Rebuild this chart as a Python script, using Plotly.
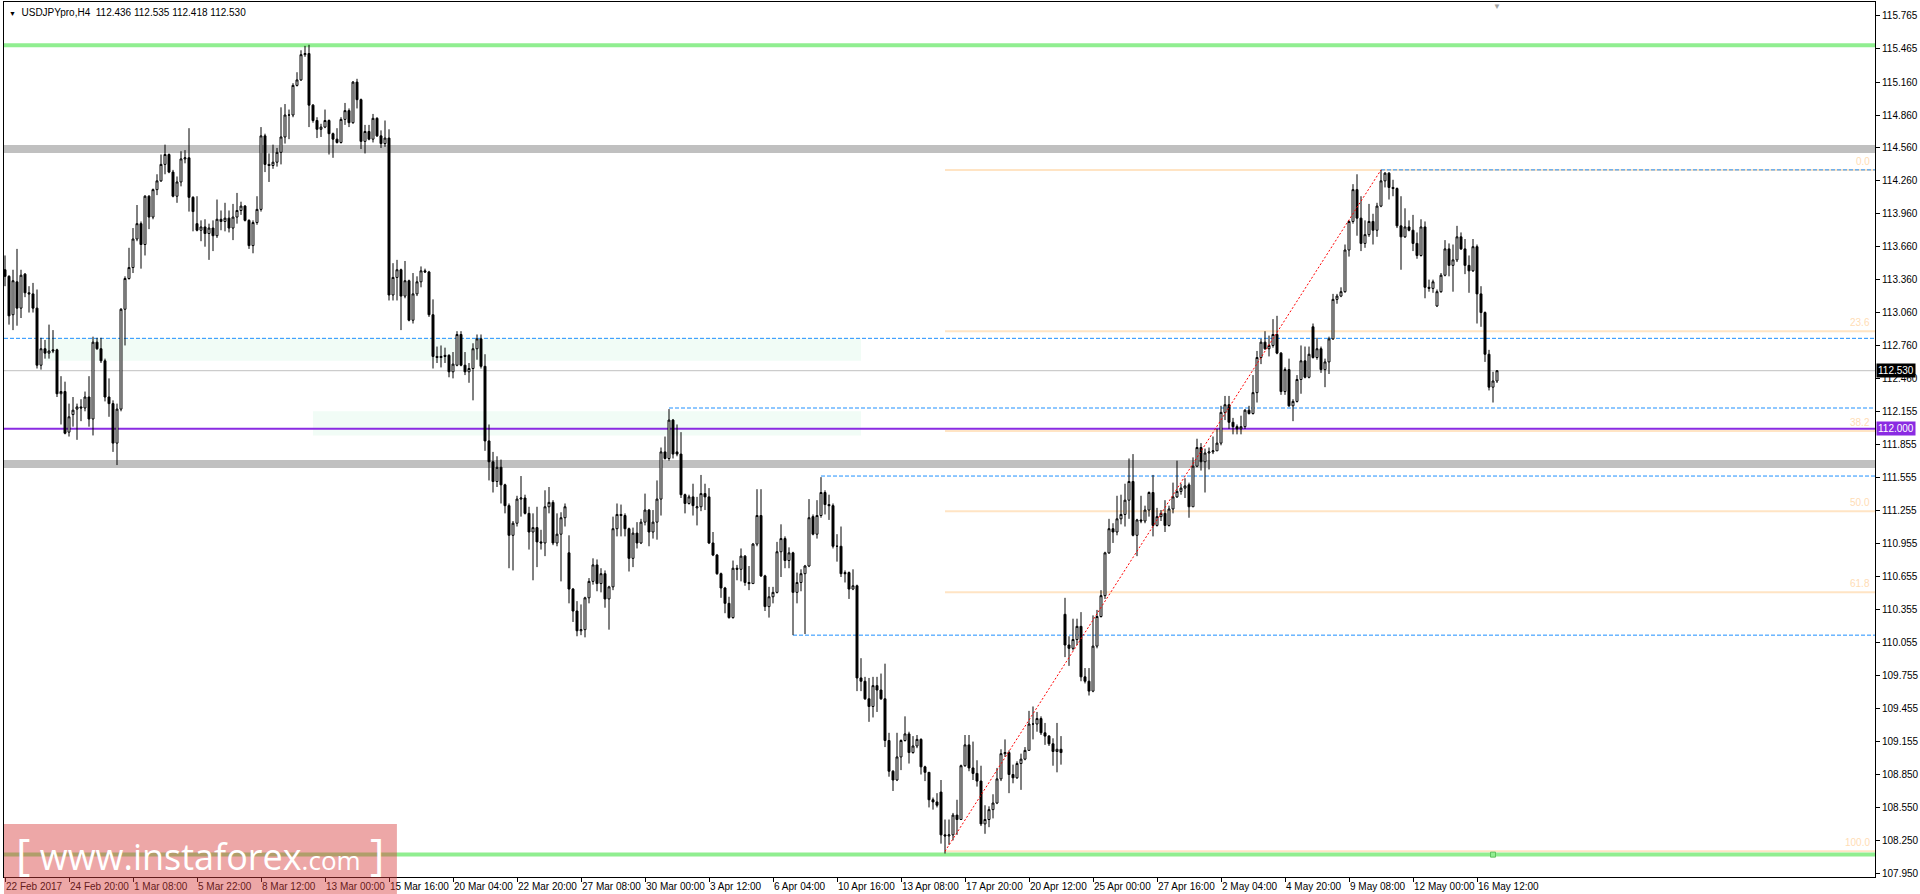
import plotly.graph_objects as go

# USDJPYpro H4 bars, left to right (bar index 0 = 22 Feb 2017)
OPEN = [
    113.45, 113.39, 113.04, 113.34, 113.10, 113.41, 113.24, 113.23, 113.10, 112.58,
    112.73, 112.69, 112.72, 112.72, 112.32, 112.34, 111.97, 112.13, 112.18, 112.20,
    112.19, 112.29, 112.09, 112.79, 112.73, 112.62, 112.29, 112.23, 111.87, 112.18,
    113.09, 113.37, 113.47, 113.73, 113.87, 113.68, 114.12, 113.93, 114.18, 114.26,
    114.41, 114.50, 114.34, 114.12, 114.25, 114.46, 114.47, 114.11, 113.87, 113.81,
    113.84, 113.78, 113.83, 113.76, 113.91, 113.89, 113.92, 113.83, 113.93, 113.99,
    114.03, 113.90, 113.67, 113.88, 114.00, 114.67, 114.41, 114.40, 114.43, 114.52,
    114.66, 114.86, 114.86, 115.13, 115.18, 115.41, 115.42, 114.95, 114.81, 114.73,
    114.75, 114.81, 114.69, 114.64, 114.61, 114.82, 114.90, 114.79, 115.16, 115.00,
    114.62, 114.71, 114.64, 114.83, 114.67, 114.60, 114.65, 113.22, 113.38, 113.45,
    113.21, 113.35, 112.99, 113.23, 113.34, 113.44, 113.43, 113.04, 112.66, 112.65,
    112.67, 112.67, 112.52, 112.58, 112.86, 112.58, 112.52, 112.55, 112.73, 112.82,
    112.57, 111.89, 111.70, 111.52, 111.65, 111.49, 111.30, 111.03, 111.14, 111.36,
    111.37, 111.23, 111.06, 111.10, 110.97, 110.96, 111.29, 111.33, 110.96, 111.04,
    111.19, 110.87, 110.54, 110.34, 110.16, 110.17, 110.46, 110.61, 110.76, 110.59,
    110.68, 110.45, 110.56, 111.09, 111.22, 111.21, 111.09, 110.82, 111.05, 110.96,
    111.15, 111.26, 111.06, 111.15, 111.36, 111.79, 111.73, 112.08, 111.79, 111.77,
    111.40, 111.32, 111.38, 111.28, 111.29, 111.41, 111.38, 110.96, 110.85, 110.68,
    110.55, 110.41, 110.28, 110.73, 110.72, 110.84, 110.60, 110.59, 110.95, 111.21,
    110.66, 110.38, 110.47, 110.51, 110.88, 111.00, 110.80, 110.87, 110.51, 110.60,
    110.68, 110.75, 111.20, 111.04, 111.21, 111.42, 111.31, 111.30, 110.93, 110.93,
    110.69, 110.69, 110.54, 110.57, 109.73, 109.70, 109.54, 109.47, 109.66, 109.62,
    109.54, 109.16, 108.88, 108.80, 109.01, 109.16, 109.22, 109.05, 109.11, 109.17,
    108.92, 108.87, 108.62, 108.60, 108.69, 108.30, 108.29, 108.30, 108.48, 108.44,
    108.93, 109.12, 108.91, 108.86, 108.79, 108.40, 108.44, 108.53, 108.59, 108.81,
    109.04, 109.05, 108.85, 108.82, 108.95, 108.99, 109.07, 109.31, 109.31, 109.36,
    109.23, 109.20, 109.13, 109.06, 109.08, 110.31, 110.03, 110.00, 110.08, 110.20,
    109.74, 109.70, 109.61, 110.02, 110.29, 110.48, 110.87, 111.09, 111.06, 111.18,
    111.22, 111.35, 111.52, 111.03, 111.17, 111.16, 111.26, 111.42, 111.12, 111.20,
    111.23, 111.12, 111.27, 111.38, 111.43, 111.46, 111.49, 111.29, 111.66, 111.83,
    111.70, 111.78, 111.79, 111.80, 111.87, 112.15, 112.22, 112.06, 112.02, 112.00,
    112.02, 112.17, 112.14, 112.33, 112.65, 112.79, 112.73, 112.76, 112.86, 112.69,
    112.34, 112.54, 112.21, 112.25, 112.45, 112.62, 112.47, 112.93, 112.65, 112.73,
    112.54, 112.61, 112.82, 113.18, 113.21, 113.25, 113.63, 113.89, 114.18, 113.92,
    113.69, 113.77, 113.89, 113.81, 114.03, 114.26, 114.33, 114.20, 114.19, 113.85,
    113.75, 113.84, 113.81, 113.69, 113.58, 113.84, 113.29, 113.28, 113.12, 113.25,
    113.40, 113.64, 113.49, 113.54, 113.75, 113.64, 113.49, 113.44, 113.66, 113.23,
    113.06, 112.68, 112.38, 112.436,
]
HIGH = [
    113.58, 113.40, 113.45, 113.64, 113.45, 113.42, 113.30, 113.33, 113.27, 112.83,
    112.81, 112.95, 112.90, 112.73, 112.48, 112.43, 112.23, 112.29, 112.23, 112.27,
    112.34, 112.48, 112.84, 112.83, 112.83, 112.64, 112.46, 112.26, 112.23, 113.10,
    113.39, 113.65, 113.83, 114.04, 113.89, 114.13, 114.13, 114.19, 114.32, 114.50,
    114.59, 114.51, 114.36, 114.30, 114.53, 114.54, 114.74, 114.12, 114.12, 113.90,
    113.91, 113.87, 113.90, 114.09, 113.99, 114.06, 113.99, 114.05, 114.15, 114.07,
    114.04, 113.91, 113.90, 114.12, 114.75, 114.69, 114.51, 114.59, 114.56, 114.93,
    114.96, 114.91, 115.15, 115.25, 115.45, 115.49, 115.50, 114.96, 114.84, 114.78,
    114.91, 114.82, 114.70, 114.74, 114.84, 114.97, 114.92, 115.17, 115.19, 115.01,
    114.77, 114.77, 114.87, 114.84, 114.72, 114.81, 114.73, 113.51, 113.54, 113.46,
    113.53, 113.36, 113.42, 113.39, 113.48, 113.46, 113.44, 113.18, 112.75, 112.76,
    112.74, 112.68, 112.70, 112.89, 112.89, 112.70, 112.60, 112.78, 112.86, 112.86,
    112.68, 112.04, 111.79, 111.75, 111.72, 111.50, 111.32, 111.16, 111.39, 111.57,
    111.40, 111.29, 111.23, 111.29, 111.08, 111.44, 111.47, 111.35, 111.23, 111.24,
    111.32, 111.03, 110.55, 110.43, 110.40, 110.47, 110.64, 110.82, 110.81, 110.73,
    110.71, 110.57, 111.20, 111.32, 111.31, 111.23, 111.10, 111.10, 111.15, 111.18,
    111.41, 111.27, 111.26, 111.53, 111.83, 111.93, 112.18, 112.09, 112.04, 111.97,
    111.41, 111.40, 111.50, 111.38, 111.58, 111.50, 111.46, 111.06, 110.86, 110.69,
    110.56, 110.47, 110.80, 110.76, 110.91, 110.85, 110.75, 110.96, 111.45, 111.45,
    110.67, 110.56, 110.56, 110.97, 111.13, 111.02, 110.92, 110.88, 110.69, 110.72,
    110.76, 111.36, 111.22, 111.35, 111.56, 111.44, 111.40, 111.32, 111.04, 111.11,
    110.71, 110.70, 110.72, 110.58, 109.91, 109.74, 109.73, 109.74, 109.74, 109.77,
    109.86, 109.23, 108.89, 109.23, 109.17, 109.38, 109.24, 109.20, 109.21, 109.18,
    108.93, 108.87, 108.64, 108.68, 108.80, 108.44, 108.44, 108.50, 108.62, 108.94,
    109.21, 109.21, 109.15, 108.98, 108.93, 108.57, 108.56, 108.67, 108.91, 109.08,
    109.17, 109.07, 108.94, 108.97, 109.04, 109.10, 109.43, 109.47, 109.42, 109.38,
    109.32, 109.21, 109.18, 109.32, 109.20, 110.46, 110.11, 110.27, 110.27, 110.33,
    109.82, 109.82, 110.30, 110.35, 110.53, 110.88, 111.18, 111.14, 111.39, 111.40,
    111.50, 111.73, 111.77, 111.18, 111.39, 111.30, 111.43, 111.58, 111.28, 111.26,
    111.35, 111.30, 111.51, 111.71, 111.50, 111.55, 111.51, 111.74, 111.91, 111.87,
    111.82, 111.83, 111.93, 112.00, 112.21, 112.30, 112.30, 112.10, 112.04, 112.12,
    112.18, 112.21, 112.49, 112.71, 112.82, 112.89, 112.85, 113.00, 113.03, 112.70,
    112.56, 112.64, 112.27, 112.49, 112.76, 112.75, 112.75, 112.96, 112.83, 112.75,
    112.64, 112.84, 113.23, 113.23, 113.29, 113.68, 113.90, 114.23, 114.32, 114.12,
    113.90, 114.05, 113.96, 114.06, 114.36, 114.34, 114.34, 114.27, 114.20, 114.12,
    114.01, 113.90, 113.95, 113.79, 113.91, 113.89, 113.36, 113.36, 113.27, 113.42,
    113.72, 113.69, 113.68, 113.85, 113.79, 113.73, 113.58, 113.73, 113.68, 113.30,
    113.07, 112.72, 112.52, 112.535,
]
LOW = [
    113.30, 112.95, 112.90, 112.94, 113.01, 113.20, 113.06, 113.06, 112.55, 112.54,
    112.64, 112.64, 112.69, 112.29, 112.04, 111.95, 111.93, 112.02, 111.90, 112.07,
    112.16, 112.02, 111.94, 112.72, 112.60, 112.25, 112.11, 111.79, 111.67, 112.16,
    112.76, 113.36, 113.42, 113.71, 113.46, 113.58, 113.82, 113.91, 114.13, 114.25,
    114.32, 114.33, 114.11, 114.06, 114.21, 114.42, 113.98, 113.80, 113.80, 113.71,
    113.66, 113.54, 113.62, 113.74, 113.81, 113.80, 113.79, 113.72, 113.87, 113.95,
    113.89, 113.64, 113.60, 113.86, 113.98, 114.34, 114.25, 114.37, 114.39, 114.41,
    114.60, 114.64, 114.84, 115.12, 115.17, 115.39, 114.75, 114.79, 114.65, 114.66,
    114.74, 114.50, 114.47, 114.60, 114.60, 114.77, 114.75, 114.78, 114.92, 114.55,
    114.51, 114.63, 114.61, 114.66, 114.56, 114.57, 113.17, 113.17, 113.17, 112.90,
    113.19, 112.98, 112.96, 113.21, 113.29, 113.42, 113.02, 112.55, 112.60, 112.56,
    112.60, 112.47, 112.46, 112.57, 112.57, 112.49, 112.42, 112.26, 112.63, 112.55,
    111.80, 111.53, 111.42, 111.47, 111.32, 111.23, 110.73, 110.71, 111.11, 111.20,
    111.22, 110.90, 110.62, 110.74, 110.90, 110.84, 111.23, 110.94, 110.93, 110.61,
    111.11, 110.41, 110.24, 110.11, 110.12, 110.10, 110.41, 110.58, 110.52, 110.51,
    110.37, 110.17, 110.53, 111.02, 111.02, 111.02, 110.70, 110.74, 110.91, 110.95,
    111.12, 110.93, 111.00, 110.99, 111.21, 111.72, 111.71, 111.73, 111.75, 111.37,
    111.23, 111.31, 111.21, 111.12, 111.25, 111.26, 110.95, 110.84, 110.67, 110.46,
    110.32, 110.27, 110.27, 110.62, 110.61, 110.57, 110.53, 110.59, 110.93, 110.65,
    110.34, 110.28, 110.41, 110.50, 110.65, 110.73, 110.73, 110.12, 110.41, 110.52,
    110.13, 110.74, 111.03, 111.00, 111.19, 111.22, 111.17, 110.91, 110.79, 110.65,
    110.60, 110.45, 110.53, 109.61, 109.61, 109.53, 109.33, 109.37, 109.42, 109.53,
    109.10, 108.83, 108.70, 108.79, 108.89, 109.15, 108.95, 109.04, 109.09, 108.85,
    108.79, 108.55, 108.53, 108.55, 108.22, 108.13, 108.21, 108.25, 108.30, 108.44,
    108.92, 108.88, 108.80, 108.74, 108.38, 108.31, 108.37, 108.45, 108.58, 108.79,
    109.01, 108.68, 108.77, 108.81, 108.71, 108.98, 109.07, 109.17, 109.24, 109.21,
    109.12, 109.11, 108.93, 108.87, 108.94, 109.92, 109.84, 109.98, 110.03, 109.70,
    109.68, 109.57, 109.60, 110.00, 110.28, 110.45, 110.86, 110.96, 111.03, 111.13,
    111.11, 111.18, 111.02, 110.84, 111.14, 111.14, 111.20, 111.02, 111.11, 111.16,
    111.06, 111.11, 111.23, 111.37, 111.40, 111.37, 111.19, 111.29, 111.65, 111.62,
    111.42, 111.63, 111.77, 111.80, 111.85, 112.08, 112.00, 111.95, 111.95, 111.95,
    112.00, 112.13, 112.13, 112.24, 112.59, 112.72, 112.66, 112.74, 112.68, 112.31,
    112.31, 112.20, 112.07, 112.24, 112.32, 112.46, 112.46, 112.64, 112.63, 112.51,
    112.38, 112.50, 112.81, 113.14, 113.20, 113.24, 113.57, 113.87, 113.76, 113.62,
    113.65, 113.75, 113.68, 113.75, 114.02, 114.20, 114.09, 114.12, 113.83, 113.45,
    113.74, 113.80, 113.62, 113.55, 113.57, 113.19, 113.25, 113.24, 113.11, 113.24,
    113.39, 113.39, 113.25, 113.52, 113.63, 113.41, 113.24, 113.43, 112.96, 112.93,
    112.61, 112.35, 112.24, 112.418,
]
CLOSE = [
    113.39, 113.03, 113.35, 113.10, 113.40, 113.24, 113.23, 113.10, 112.58, 112.73,
    112.69, 112.71, 112.71, 112.32, 112.34, 111.96, 112.11, 112.17, 112.20, 112.19,
    112.29, 112.09, 112.79, 112.73, 112.62, 112.29, 112.23, 111.87, 112.18, 113.09,
    113.37, 113.47, 113.73, 113.87, 113.68, 114.12, 113.93, 114.18, 114.26, 114.41,
    114.50, 114.34, 114.12, 114.25, 114.46, 114.47, 114.11, 113.98, 113.81, 113.84,
    113.78, 113.83, 113.76, 113.91, 113.89, 113.92, 113.83, 113.93, 113.99, 114.03,
    113.90, 113.67, 113.88, 114.00, 114.67, 114.41, 114.40, 114.43, 114.52, 114.66,
    114.86, 114.86, 115.13, 115.18, 115.41, 115.42, 114.95, 114.81, 114.73, 114.75,
    114.81, 114.69, 114.64, 114.61, 114.82, 114.90, 114.79, 115.16, 115.00, 114.62,
    114.71, 114.64, 114.83, 114.67, 114.60, 114.65, 113.22, 113.38, 113.45, 113.21,
    113.35, 112.99, 113.23, 113.34, 113.44, 113.43, 113.04, 112.66, 112.65, 112.66,
    112.66, 112.52, 112.59, 112.86, 112.58, 112.52, 112.55, 112.73, 112.82, 112.57,
    111.89, 111.70, 111.52, 111.65, 111.49, 111.30, 111.03, 111.14, 111.36, 111.37,
    111.23, 111.06, 111.10, 110.97, 110.96, 111.29, 111.33, 110.96, 111.04, 111.19,
    111.29, 110.54, 110.34, 110.16, 110.17, 110.46, 110.61, 110.76, 110.59, 110.68,
    110.45, 110.56, 111.09, 111.22, 111.21, 111.09, 110.82, 111.05, 110.96, 111.15,
    111.26, 111.06, 111.15, 111.36, 111.79, 111.73, 112.08, 111.77, 111.77, 111.40,
    111.32, 111.38, 111.30, 111.29, 111.41, 111.38, 110.96, 110.85, 110.68, 110.55,
    110.41, 110.28, 110.73, 110.72, 110.84, 110.60, 110.59, 110.95, 111.21, 110.66,
    110.38, 110.47, 110.51, 110.88, 111.00, 110.80, 110.87, 110.51, 110.60, 110.68,
    110.75, 111.19, 111.04, 111.21, 111.42, 111.31, 111.30, 110.93, 110.93, 110.68,
    110.68, 110.54, 110.57, 109.73, 109.70, 109.54, 109.47, 109.66, 109.62, 109.54,
    109.16, 108.88, 108.80, 109.01, 109.16, 109.22, 109.05, 109.11, 109.17, 108.92,
    108.87, 108.62, 108.60, 108.57, 108.30, 108.29, 108.30, 108.48, 108.44, 108.93,
    109.12, 108.91, 108.86, 108.79, 108.40, 108.44, 108.53, 108.59, 108.81, 109.04,
    109.05, 108.85, 108.82, 108.95, 108.99, 109.07, 109.31, 109.31, 109.36, 109.23,
    109.20, 109.13, 109.06, 109.08, 109.05, 110.03, 110.00, 110.08, 110.20, 109.74,
    109.70, 109.61, 110.02, 110.29, 110.48, 110.87, 111.09, 111.06, 111.18, 111.22,
    111.35, 111.52, 111.03, 111.17, 111.16, 111.26, 111.42, 111.12, 111.20, 111.23,
    111.12, 111.27, 111.38, 111.43, 111.46, 111.48, 111.29, 111.66, 111.83, 111.70,
    111.78, 111.79, 111.80, 111.87, 112.15, 112.22, 112.06, 112.02, 112.00, 112.02,
    112.17, 112.14, 112.33, 112.65, 112.79, 112.73, 112.76, 112.86, 112.69, 112.34,
    112.54, 112.21, 112.25, 112.45, 112.62, 112.47, 112.68, 112.65, 112.73, 112.54,
    112.61, 112.82, 113.18, 113.21, 113.25, 113.63, 113.89, 114.18, 113.92, 113.69,
    113.77, 113.89, 113.81, 114.03, 114.26, 114.33, 114.20, 114.19, 113.85, 113.75,
    113.84, 113.81, 113.69, 113.58, 113.84, 113.29, 113.28, 113.34, 113.25, 113.40,
    113.64, 113.49, 113.54, 113.75, 113.64, 113.49, 113.44, 113.66, 113.23, 113.06,
    112.68, 112.38, 112.436, 112.530,
]

X_LABELS = [
    "22 Feb 2017", "24 Feb 20:00", "1 Mar 08:00", "5 Mar 22:00", "8 Mar 12:00",
    "13 Mar 00:00", "15 Mar 16:00", "20 Mar 04:00", "22 Mar 20:00", "27 Mar 08:00",
    "30 Mar 00:00", "3 Apr 12:00", "6 Apr 04:00", "10 Apr 16:00", "13 Apr 08:00",
    "17 Apr 20:00", "20 Apr 12:00", "25 Apr 00:00", "27 Apr 16:00", "2 May 04:00",
    "4 May 20:00", "9 May 08:00", "12 May 00:00", "16 May 12:00",
]
X_LABEL_STEP = 16  # one time label every 16 bars

Y_TICKS = [
    115.765, 115.465, 115.160, 114.860, 114.560, 114.260, 113.960, 113.660, 113.360,
    113.060, 112.760, 112.460, 112.155, 111.855, 111.555, 111.255, 110.955, 110.655,
    110.355, 110.055, 109.755, 109.455, 109.155, 108.850, 108.550, 108.250, 107.950,
]

# chart objects
GREEN_LEVELS = [115.495, 108.12]
GREEN_ANCHOR_BAR = 372  # little handle square on the lower green line
GRAY_ZONES = [114.55, 111.68]
PURPLE_LEVEL = 112.000
LAST_PRICE = 112.530
RAYS = [(-0.25, 112.825), (166, 112.19), (204, 111.57), (197, 110.12), (344, 114.36)]  # (start bar, price)
MINT_BOXES = [(10, 214, 112.62, 112.825), (77, 214, 111.94, 112.16)]  # (bar0, bar1, low, high)
FIB_START, FIB_END = 235, 344
FIB_LOW, FIB_HIGH = 108.15, 114.36
FIB_LEVELS = [(114.36, "0.0"), (112.89, "23.6"), (111.98, "38.2"), (111.25, "50.0"),
              (110.51, "61.8"), (108.15, "100.0")]

X_START, X_END = -0.25, 467.5
Y_RANGE = [107.916, 115.890]
FONT = "Liberation Sans, Arial, sans-serif"

bars = list(range(len(OPEN)))

fig = go.Figure(
    go.Candlestick(
        x=bars, open=OPEN, high=HIGH, low=LOW, close=CLOSE,
        increasing=dict(line=dict(color="black", width=1), fillcolor="white"),
        decreasing=dict(line=dict(color="black", width=1), fillcolor="black"),
        whiskerwidth=0,
        hoverinfo="skip",
    )
)


def hline(level, color, width, x0=X_START, dash="solid"):
    fig.add_shape(type="line", x0=x0, x1=X_END, y0=level, y1=level,
                  line=dict(color=color, width=width, dash=dash), layer="below")


for x0, x1, lo, hi in MINT_BOXES:
    fig.add_shape(type="rect", x0=x0, x1=x1, y0=lo, y1=hi, fillcolor="#F1FCF6",
                  line_width=0, layer="below")

for lvl in GRAY_ZONES:
    hline(lvl, "#C0C0C0", 8)

for lvl, txt in FIB_LEVELS:
    hline(lvl, "#FFE4C4", 2, x0=FIB_START)
    fig.add_annotation(xref="paper", x=1, xanchor="right", xshift=-3, y=lvl, yanchor="bottom",
                       yshift=1, text=txt, showarrow=False,
                       font=dict(family=FONT, size=10, color="#FFDDB5"))

for lvl in GREEN_LEVELS:
    hline(lvl, "#90EE90", 4)

hline(LAST_PRICE, "#C0C0C0", 1)
hline(PURPLE_LEVEL, "#8A2BE2", 2)

for x0, lvl in RAYS:
    hline(lvl, "#1E90FF", 1, x0=x0, dash="4px,2px")

fig.add_shape(type="line", x0=FIB_START, x1=FIB_END, y0=FIB_LOW, y1=FIB_HIGH,
              line=dict(color="red", width=1, dash="2px,2px"), layer="above")

fig.add_trace(go.Scatter(x=[GREEN_ANCHOR_BAR], y=[GREEN_LEVELS[1]], mode="markers",
                         marker=dict(symbol="square", size=5, color="#90EE90",
                                     line=dict(color="#5FC05F", width=1)),
                         hoverinfo="skip"))

# price tags on the right scale
for lvl, bg in [(LAST_PRICE, "black"), (PURPLE_LEVEL, "#8A2BE2")]:
    fig.add_annotation(xref="paper", x=1, xanchor="left", xshift=1, y=lvl, yanchor="middle",
                       text=f"{lvl:.3f}", showarrow=False, bgcolor=bg, borderpad=1,
                       font=dict(family=FONT, size=10, color="white"))

# header
fig.add_annotation(xref="paper", yref="paper", x=0, y=1, xanchor="left", yanchor="top",
                   xshift=3, yshift=-3, showarrow=False, align="left",
                   text="<span style='font-size:7px'>▼</span>\u00a0 USDJPYpro,H4\u00a0\u00a0"
                        f"{OPEN[-1]:.3f} {HIGH[-1]:.3f} {LOW[-1]:.3f} {CLOSE[-1]:.3f}",
                   font=dict(family=FONT, size=10, color="black"))

# chart-shift marker
fig.add_annotation(x=bars[-1], yref="paper", y=1, yanchor="top", yshift=2, showarrow=False,
                   text="▼", font=dict(size=8, color="#A0A0A0"))

# watermark
fig.add_shape(type="rect", xref="paper", yref="paper", x0=0, x1=0.21, y0=-0.0194, y1=0.0606,
              fillcolor="rgba(215,60,60,0.45)", line_width=0, layer="above")
fig.add_annotation(xref="paper", yref="paper", x=0.105, y=0.027, xanchor="center", yanchor="middle",
                   showarrow=False,
                   text="<span style='font-size:44px'>[</span> www.instaforex"
                        "<span style='font-size:26px'>.com</span> <span style='font-size:44px'>]</span>",
                   font=dict(family="Open Sans, sans-serif", size=36, color="white"))

fig.update_xaxes(
    range=[X_START, X_END],
    tickvals=bars[::X_LABEL_STEP], ticktext=X_LABELS, tickangle=0,
    ticks="outside", ticklen=4, tickcolor="black",
    ticklabelposition="outside right",
    tickfont=dict(family=FONT, size=10, color="black"),
    showline=True, linecolor="black", linewidth=1, mirror=True,
    showgrid=False, zeroline=False, rangeslider_visible=False, automargin=False,
)
fig.update_yaxes(
    side="right", range=Y_RANGE,
    tickvals=Y_TICKS, ticktext=[f"{v:.3f}" for v in Y_TICKS],
    ticks="outside", ticklen=4, tickcolor="black",
    tickfont=dict(family=FONT, size=10, color="black"),
    showline=True, linecolor="black", linewidth=1, mirror=True,
    showgrid=False, zeroline=False, automargin=False,
)
fig.update_layout(
    width=1920, height=894,
    margin=dict(l=4, r=45, t=2, b=17),
    paper_bgcolor="white", plot_bgcolor="white",
    showlegend=False,
    font=dict(family=FONT, size=10, color="black"),
)

fig.write_html("out.html", config={"displayModeBar": False},
               post_script="document.body.style.margin='0';")
